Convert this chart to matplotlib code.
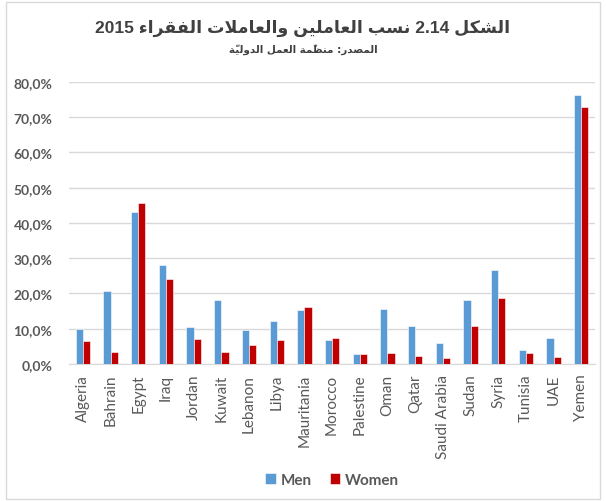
import matplotlib
matplotlib.use("Agg")
import matplotlib.pyplot as plt
import numpy as np
from matplotlib.patches import Rectangle

countries = ["Algeria", "Bahrain", "Egypt", "Iraq", "Jordan", "Kuwait", "Lebanon",
             "Libya", "Mauritania", "Morocco", "Palestine", "Oman", "Qatar",
             "Saudi Arabia", "Sudan", "Syria", "Tunisia", "UAE", "Yemen"]
men = [9.8, 20.8, 43.2, 28.0, 10.4, 18.2, 9.5, 12.3, 15.3, 6.7, 2.7, 15.5, 10.9,
       6.0, 18.2, 26.7, 4.0, 7.3, 76.3]
women = [6.5, 3.5, 45.5, 24.2, 7.0, 3.5, 5.4, 6.7, 16.1, 7.5, 2.7, 3.2, 2.2,
         1.7, 10.7, 18.7, 3.2, 1.9, 72.8]
yticks = [0, 10, 20, 30, 40, 50, 60, 70, 80]

title_ar = "الشكل 2.14 نسب العاملين والعاملات الفقراء 2015"
subtitle_ar = "المصدر: منظّمة العمل الدوليّة"

# minimal arabic shaping: (isolated, final, initial, medial)
FORMS = {
    "ا": (0xFE8D, 0xFE8E), "ب": (0xFE8F, 0xFE90, 0xFE91, 0xFE92),
    "ة": (0xFE93, 0xFE94), "ت": (0xFE95, 0xFE96, 0xFE97, 0xFE98),
    "د": (0xFEA9, 0xFEAA), "ر": (0xFEAD, 0xFEAE),
    "س": (0xFEB1, 0xFEB2, 0xFEB3, 0xFEB4), "ش": (0xFEB5, 0xFEB6, 0xFEB7, 0xFEB8),
    "ص": (0xFEB9, 0xFEBA, 0xFEBB, 0xFEBC), "ظ": (0xFEC5, 0xFEC6, 0xFEC7, 0xFEC8),
    "ع": (0xFEC9, 0xFECA, 0xFECB, 0xFECC), "ف": (0xFED1, 0xFED2, 0xFED3, 0xFED4),
    "ق": (0xFED5, 0xFED6, 0xFED7, 0xFED8), "ك": (0xFED9, 0xFEDA, 0xFEDB, 0xFEDC),
    "ل": (0xFEDD, 0xFEDE, 0xFEDF, 0xFEE0), "م": (0xFEE1, 0xFEE2, 0xFEE3, 0xFEE4),
    "ن": (0xFEE5, 0xFEE6, 0xFEE7, 0xFEE8), "و": (0xFEED, 0xFEEE),
    "ي": (0xFEF1, 0xFEF2, 0xFEF3, 0xFEF4), "ء": (0xFE80,),
}
MARKS = "\u064B\u064C\u064D\u064E\u064F\u0650\u0651\u0652"


def shape_word(word):
    # merge lam-alef
    chars = []
    i = 0
    while i < len(word):
        if word[i] == "ل" and i + 1 < len(word) and word[i + 1] == "ا":
            chars.append("LA")
            i += 2
        else:
            chars.append(word[i])
            i += 1
    letters = [k for k, c in enumerate(chars) if c not in MARKS]
    out = list(chars)
    for n, k in enumerate(letters):
        c = chars[k]
        prev = chars[letters[n - 1]] if n > 0 else None
        nxt = chars[letters[n + 1]] if n + 1 < len(letters) else None
        join_prev = prev is not None and prev in FORMS and len(FORMS[prev]) == 4 \
            and (c in FORMS and len(FORMS[c]) > 1 or c == "LA")
        if c == "LA":
            out[k] = chr(0xFEFC if join_prev else 0xFEFB)
            continue
        if c not in FORMS:
            continue
        f = FORMS[c]
        join_next = len(f) == 4 and nxt is not None and \
            (nxt == "LA" or (nxt in FORMS and len(FORMS[nxt]) > 1))
        if join_prev and join_next:
            out[k] = chr(f[3])
        elif join_prev:
            out[k] = chr(f[1])
        elif join_next:
            out[k] = chr(f[2])
        else:
            out[k] = chr(f[0])
    # visual order (marks end up just before their base, drawn over the next glyph)
    return "".join(reversed(out))


def rtl(text):
    words = text.split(" ")
    res = []
    for w in reversed(words):
        if any(ch.isdigit() for ch in w):
            res.append(w)
        else:
            res.append(shape_word(w))
    return " ".join(res)


plt.rcParams["font.family"] = ["Lato", "DejaVu Sans"]

fig = plt.figure(figsize=(6.06, 5.02), dpi=100)
ax = fig.add_axes([0.114, 0.273, 0.868, 0.562])

x = np.arange(len(countries))
w = 0.26
ax.bar(x - 0.13, men, w, color="#5B9BD5", edgecolor="white", linewidth=0.4, label="Men", zorder=3)
ax.bar(x + 0.13, women, w, color="#C00000", edgecolor="white", linewidth=0.4, label="Women", zorder=3)

ax.set_xlim(-0.5, len(countries) - 0.5)
ax.set_ylim(0, 80)
ax.set_yticks(yticks)
ax.set_yticklabels([f"{v:.1f}%".replace(".", ",") for v in yticks],
                   fontsize=10, color="#595959", fontweight="bold")
ax.set_xticks(x)
ax.set_xticklabels(countries, rotation=90, fontsize=11, color="#595959")
ax.tick_params(length=0)
ax.tick_params(axis="y", pad=12)
ax.tick_params(axis="x", pad=7)
ax.grid(axis="y", color="#D9D9D9", linewidth=1, zorder=0)
for s in ["top", "right", "left"]:
    ax.spines[s].set_visible(False)
ax.spines["bottom"].set_color("#D9D9D9")

ax.legend(loc="center", bbox_to_anchor=(0.5, -0.41), ncol=2, frameon=False,
          prop={"size": 11, "weight": "bold"}, handlelength=0.7, handleheight=0.7,
          handletextpad=0.3, columnspacing=1.2, labelcolor="#595959")

fig.text(0.5, 0.944, rtl(title_ar), ha="center", va="center", fontsize=12.5,
         fontweight="bold", color="#404040", family=["Liberation Sans", "DejaVu Sans"])
fig.text(0.5, 0.902, rtl(subtitle_ar), ha="center", va="center", fontsize=7.5,
         fontweight="bold", color="#404040", family=["DejaVu Sans"])

fig.patches.append(Rectangle((6 / 606, 2 / 502), 594 / 606, 497 / 502, transform=fig.transFigure,
                             fill=False, edgecolor="#D9D9D9", linewidth=1))

fig.savefig("out.png", dpi=100, facecolor="white")
